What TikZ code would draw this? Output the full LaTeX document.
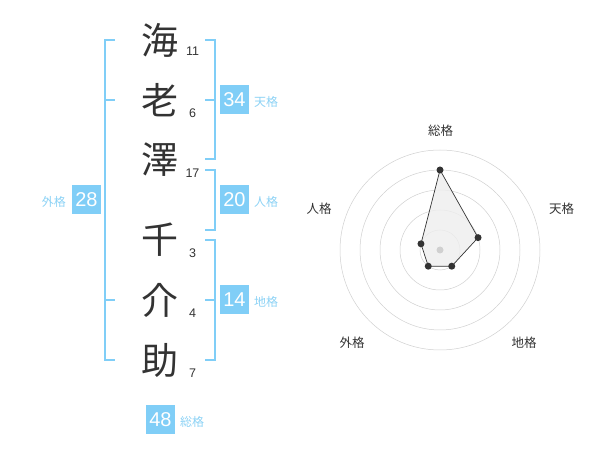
\documentclass[tikz,border=0pt]{standalone}
\usepackage{fontspec}
\setmainfont{Noto Sans CJK JP}
\newfontfamily\numfont{Liberation Sans}
\definecolor{brk}{RGB}{128,206,247}
\definecolor{boxc}{RGB}{128,206,247}
\definecolor{lblc}{RGB}{140,210,245}
\definecolor{ink}{RGB}{51,51,51}
\definecolor{ring}{RGB}{208,208,208}
\definecolor{polyf}{RGB}{238,238,238}
\tikzset{
  kanji/.style={font=\fontsize{37}{37}\selectfont, text=ink, inner sep=0pt, anchor=center},
  strokenum/.style={font=\numfont\fontsize{12.5}{12.5}\selectfont, text=ink, inner sep=0pt, anchor=center},
  valbox/.style={fill=boxc, text=white, minimum width=29pt, minimum height=29pt, inner sep=0pt, font=\numfont\fontsize{20}{20}\selectfont},
  vallbl/.style={text=lblc, font=\fontsize{12}{12}\selectfont, inner sep=0pt},
  bracket/.style={draw=brk, line width=2pt},
  radlbl/.style={text=ink, font=\fontsize{12.5}{12.5}\selectfont, inner sep=0pt},
}
\begin{document}
\begin{tikzpicture}[x=1pt,y=-1pt]
\useasboundingbox (0,0) rectangle (600,470);
% kanji
\node[kanji] (k1) at (160,40) {海};
\node[kanji] (k2) at (160,100) {老};
\node[kanji] (k3) at (160,160) {澤};
\node[kanji] (k4) at (160,240) {千};
\node[kanji] (k5) at (160,300) {介};
\node[kanji] (k6) at (160,360) {助};
% stroke numbers
\node[strokenum] (n1) at (192.5,51) {11};
\node[strokenum] (n2) at (192.5,113) {6};
\node[strokenum] (n3) at (192.5,173) {17};
\node[strokenum] (n4) at (192.5,253) {3};
\node[strokenum] (n5) at (192.5,313) {4};
\node[strokenum] (n6) at (192.5,373) {7};
% left bracket (gaikaku)
\draw[bracket] (115,40) -- (105,40) -- (105,360) -- (115,360);
\draw[bracket] (105,100) -- (115,100);
\draw[bracket] (105,300) -- (115,300);
% right brackets
\draw[bracket] (205,40) -- (215,40) -- (215,159) -- (205,159);
\draw[bracket] (205,100) -- (215,100);
\draw[bracket] (205,170) -- (215,170) -- (215,230) -- (205,230);
\draw[bracket] (205,240) -- (215,240) -- (215,360) -- (205,360);
\draw[bracket] (205,300) -- (215,300);
% value boxes
\node[valbox] (b34) at (234.5,100) {34};
\node[vallbl, anchor=west] (l34) at (254,102) {天格};
\node[valbox] (b20) at (234.5,200) {20};
\node[vallbl, anchor=west] (l20) at (254,202) {人格};
\node[valbox] (b14) at (234.5,300) {14};
\node[vallbl, anchor=west] (l14) at (254,302) {地格};
\node[valbox] (b28) at (86.5,200) {28};
\node[vallbl, anchor=east] (l28) at (66,202) {外格};
\node[valbox] (b48) at (160.5,419.5) {48};
\node[vallbl, anchor=west] (l48) at (180,422) {総格};
% radar
\coordinate (c) at (440,250);
\foreach \r in {20,40,60,80,100} \draw[ring, line width=0.5pt] (c) circle (\r);
\path (c) ++(-90:80) coordinate (p1);
\path (c) ++(-18:40) coordinate (p2);
\path (c) ++(54:20) coordinate (p3);
\path (c) ++(126:20) coordinate (p4);
\path (c) ++(-162:20) coordinate (p5);
\draw[fill=polyf, fill opacity=0.8, draw=ink, line width=0.7pt] (p1) -- (p2) -- (p3) -- (p4) -- (p5) -- cycle;
\fill[ring] (c) circle (3.5);
\foreach \p in {p1,p2,p3,p4,p5} \fill[ink] (\p) circle (3.5);
\node[radlbl] (r1) at (440.5,130.5) {総格};
\node[radlbl] (r2) at (561.5,209) {天格};
\node[radlbl] (r3) at (524,342.5) {地格};
\node[radlbl] (r4) at (352,342.5) {外格};
\node[radlbl] (r5) at (319,209) {人格};
\end{tikzpicture}
\end{document}
